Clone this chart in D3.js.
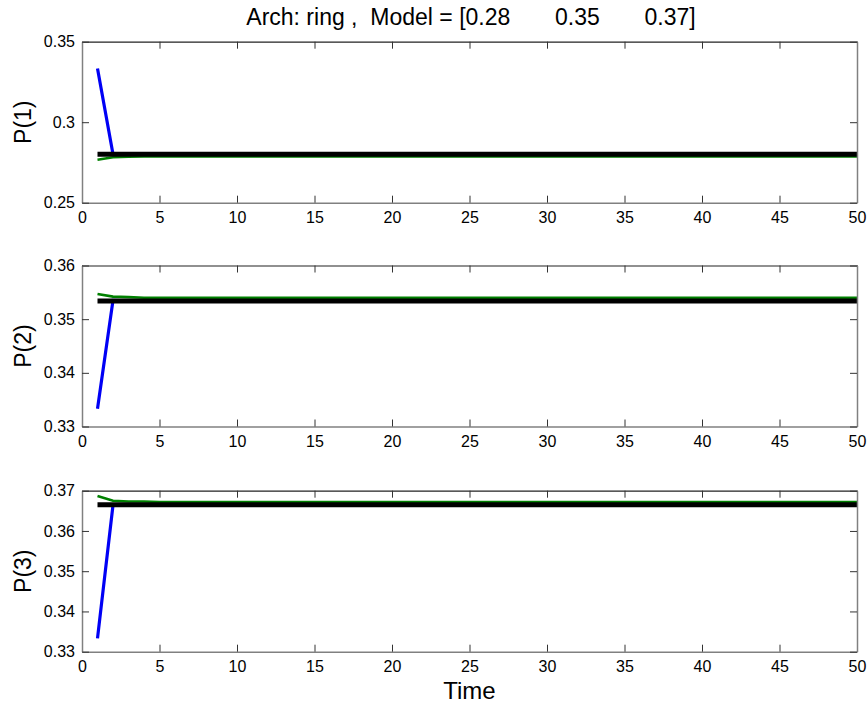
<!DOCTYPE html>
<html>
<head>
<meta charset="utf-8">
<script src="https://cdn.jsdelivr.net/npm/d3@7"></script>
<style>
  html, body { margin: 0; padding: 0; background: #fff; }
  svg { display: block; font-family: "Liberation Sans", Arial, sans-serif; }
</style>
</head>
<body>
<svg id="chart" width="867" height="706"></svg>
<script>
// Time steps of the simulation
const time = [1,2,3,4,5,6,7,8,9,10,11,12,13,14,15,16,17,18,19,20,21,22,23,24,25,
              26,27,28,29,30,31,32,33,34,35,36,37,38,39,40,41,42,43,44,45,46,47,48,49,50];

// Stationary model probabilities (constant reference lines)
const model = [0.2801, 0.3534, 0.3665];

// Blue estimate per state
const blueP1 = [0.3333,0.2801,0.2801,0.2801,0.2801,0.2801,0.2801,0.2801,0.2801,0.2801,
                0.2801,0.2801,0.2801,0.2801,0.2801,0.2801,0.2801,0.2801,0.2801,0.2801,
                0.2801,0.2801,0.2801,0.2801,0.2801,0.2801,0.2801,0.2801,0.2801,0.2801,
                0.2801,0.2801,0.2801,0.2801,0.2801,0.2801,0.2801,0.2801,0.2801,0.2801,
                0.2801,0.2801,0.2801,0.2801,0.2801,0.2801,0.2801,0.2801,0.2801,0.2801];
const blueP2 = [0.3333,0.3535,0.3534,0.3534,0.3534,0.3534,0.3534,0.3534,0.3534,0.3534,
                0.3534,0.3534,0.3534,0.3534,0.3534,0.3534,0.3534,0.3534,0.3534,0.3534,
                0.3534,0.3534,0.3534,0.3534,0.3534,0.3534,0.3534,0.3534,0.3534,0.3534,
                0.3534,0.3534,0.3534,0.3534,0.3534,0.3534,0.3534,0.3534,0.3534,0.3534,
                0.3534,0.3534,0.3534,0.3534,0.3534,0.3534,0.3534,0.3534,0.3534,0.3534];
const blueP3 = [0.3333,0.3664,0.3665,0.3665,0.3665,0.3665,0.3665,0.3665,0.3665,0.3665,
                0.3665,0.3665,0.3665,0.3665,0.3665,0.3665,0.3665,0.3665,0.3665,0.3665,
                0.3665,0.3665,0.3665,0.3665,0.3665,0.3665,0.3665,0.3665,0.3665,0.3665,
                0.3665,0.3665,0.3665,0.3665,0.3665,0.3665,0.3665,0.3665,0.3665,0.3665,
                0.3665,0.3665,0.3665,0.3665,0.3665,0.3665,0.3665,0.3665,0.3665,0.3665];

// Green estimate per state
const greenP1 = [0.2767,0.2782,0.2786,0.2787,0.2787,0.2787,0.2787,0.2787,0.2787,0.2787,
                 0.2787,0.2787,0.2787,0.2787,0.2787,0.2787,0.2787,0.2788,0.2788,0.2788,
                 0.2788,0.2788,0.2788,0.2788,0.2788,0.2788,0.2788,0.2788,0.2788,0.2788,
                 0.2788,0.2788,0.2788,0.2788,0.2788,0.2788,0.2788,0.2788,0.2788,0.2788,
                 0.2788,0.2788,0.2788,0.2788,0.2788,0.2788,0.2788,0.2788,0.2788,0.2788];
const greenP2 = [0.3547,0.3542,0.3541,0.3540,0.3540,0.3540,0.3540,0.3540,0.3540,0.3540,
                 0.3540,0.3540,0.3540,0.3540,0.3540,0.3540,0.3540,0.3540,0.3540,0.3540,
                 0.3540,0.3540,0.3540,0.3540,0.3540,0.3540,0.3540,0.3540,0.3540,0.3540,
                 0.3540,0.3540,0.3540,0.3540,0.3540,0.3540,0.3540,0.3540,0.3540,0.3540,
                 0.3540,0.3540,0.3540,0.3540,0.3540,0.3540,0.3540,0.3540,0.3540,0.3540];
const greenP3 = [0.3687,0.3675,0.3673,0.3673,0.3672,0.3672,0.3672,0.3672,0.3672,0.3672,
                 0.3672,0.3672,0.3672,0.3672,0.3672,0.3672,0.3672,0.3672,0.3672,0.3672,
                 0.3672,0.3672,0.3672,0.3672,0.3672,0.3672,0.3672,0.3672,0.3672,0.3672,
                 0.3672,0.3672,0.3672,0.3672,0.3672,0.3672,0.3672,0.3672,0.3672,0.3672,
                 0.3672,0.3672,0.3672,0.3672,0.3672,0.3672,0.3672,0.3672,0.3672,0.3672];

// Axis settings
const xDomain = [0, 50];
const xTicks = [0,5,10,15,20,25,30,35,40,45,50];
const yDomains = [[0.25, 0.35], [0.33, 0.36], [0.33, 0.37]];
const yTicks = [[0.25, 0.3, 0.35], [0.33, 0.34, 0.35, 0.36], [0.33, 0.34, 0.35, 0.36, 0.37]];
const yLabels = ["P(1)", "P(2)", "P(3)"];
const titleText = "Arch: ring ,  Model = [0.28       0.35       0.37]";
const xLabel = "Time";

const blue = [blueP1, blueP2, blueP3];
const green = [greenP1, greenP2, greenP3];

const svg = d3.select("#chart");
const left = 82, right = 857;
const panelTops = [41.7, 265.5, 490.7];
const panelH = 161;
const tickLen = 7;

const x = d3.scaleLinear().domain(xDomain).range([left, right]);

panelTops.forEach((top, i) => {
  const y = d3.scaleLinear().domain(yDomains[i]).range([top + panelH, top]);
  const g = svg.append("g");

  const line = d3.line().x(d => x(d[0])).y(d => y(d[1]));

  // series
  g.append("path")
    .datum(time.map((t, k) => [t, blue[i][k]]))
    .attr("d", line).attr("fill", "none")
    .attr("stroke", "#0000f5").attr("stroke-width", 3.2);
  g.append("path")
    .datum(time.map((t, k) => [t, green[i][k]]))
    .attr("d", line).attr("fill", "none")
    .attr("stroke", "#008000").attr("stroke-width", 2.6);
  g.append("path")
    .datum(time.map(t => [t, model[i]]))
    .attr("d", line).attr("fill", "none")
    .attr("stroke", "#000").attr("stroke-width", 5);

  // axes with inward ticks
  const axB = d3.axisBottom(x).tickValues(xTicks).tickSizeInner(-tickLen).tickSizeOuter(0)
    .tickPadding(9).tickFormat(d3.format("~g"));
  const axT = d3.axisTop(x).tickValues(xTicks).tickSizeInner(-tickLen).tickSizeOuter(0).tickFormat("");
  const axL = d3.axisLeft(y).tickValues(yTicks[i]).tickSizeInner(-tickLen).tickSizeOuter(0)
    .tickPadding(7).tickFormat(d3.format("~g"));
  const axR = d3.axisRight(y).tickValues(yTicks[i]).tickSizeInner(-tickLen).tickSizeOuter(0).tickFormat("");

  const gb = g.append("g").attr("transform", `translate(0,${top + panelH})`).call(axB);
  const gt = g.append("g").attr("transform", `translate(0,${top})`).call(axT);
  const gl = g.append("g").attr("transform", `translate(${left},0)`).call(axL);
  const gr = g.append("g").attr("transform", `translate(${right},0)`).call(axR);

  [gb, gl, gr].forEach(a => a.select(".domain").attr("stroke", "#808080").attr("stroke-width", 1.5));
  gt.select(".domain").attr("stroke", "#222").attr("stroke-width", 1.2);
  [gb, gt, gl, gr].forEach(a => a.selectAll(".tick line").attr("stroke", "#333"));
  [gb, gl].forEach(a => a.selectAll(".tick text")
    .attr("font-size", 16).attr("fill", "#000")
    .attr("font-family", "Liberation Sans, Arial, sans-serif"));
  gb.selectAll(".tick text").attr("dy", "0.71em");

  // y label
  svg.append("text")
    .attr("transform", `translate(31,${top + panelH / 2}) rotate(-90)`)
    .attr("text-anchor", "middle")
    .attr("font-size", 23)
    .text(yLabels[i]);
});

svg.append("text")
  .attr("x", 471).attr("y", 25)
  .attr("text-anchor", "middle")
  .attr("font-size", 23)
  .style("white-space", "pre")
  .text(titleText);

svg.append("text")
  .attr("x", (left + right) / 2).attr("y", 699)
  .attr("text-anchor", "middle")
  .attr("font-size", 24)
  .text(xLabel);
</script>
</body>
</html>
